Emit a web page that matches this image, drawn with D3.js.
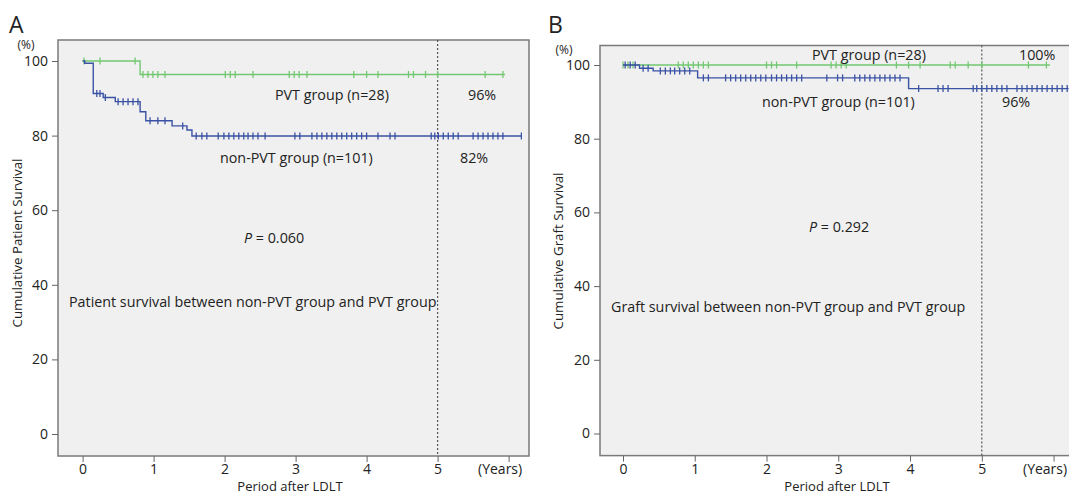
<!DOCTYPE html>
<html>
<head>
<meta charset="utf-8">
<script src="https://cdn.jsdelivr.net/npm/d3@7"></script>
<style>
  body { margin: 0; background: #fff; }
  svg { display: block; }
  text { font-family: "Open Sans", sans-serif; fill: #222; }
</style>
</head>
<body>
<svg id="chart" width="1069" height="496"></svg>
<script>
// Axis ticks
const yTicks = [0, 20, 40, 60, 80, 100];
const xTicks = [0, 1, 2, 3, 4, 5, 6];
const xTickLabels = ["0", "1", "2", "3", "4", "5", "(Years)"];

// Panel A - patient survival. Steps are [years, survival %] after each drop
const patientPvtSteps = [[0, 100], [0.81, 96.4]];
const patientPvtEnd = 5.95;
const patientPvtCensor = [0.02, 0.245, 0.74, 0.85, 0.92, 0.99, 1.06, 1.16, 2.01, 2.08, 2.15, 2.4,
  2.91, 2.98, 3.05, 3.16, 3.82, 4.0, 4.16, 4.59, 4.66, 4.83, 5.0, 5.67, 5.92];

const patientNonSteps = [[0, 100], [0.03, 99.4], [0.15, 91.3], [0.29, 90.2], [0.46, 89.1], [0.81, 86.4],
  [0.89, 84.0], [1.26, 82.6], [1.47, 81.5], [1.54, 79.9]];
const patientNonEnd = 6.18;
const patientNonCensor = [0.2, 0.245, 0.32, 0.5, 0.57, 0.64, 0.71, 0.78, 0.95, 1.06, 1.16, 1.41, 1.6, 1.68,
  1.75, 1.91, 1.99, 2.06, 2.13, 2.2, 2.27, 2.33, 2.4, 2.47, 2.57, 2.99, 3.06, 3.23, 3.3, 3.37, 3.44, 3.51,
  3.58, 3.65, 3.72, 3.79, 3.86, 3.93, 4.0, 4.16, 4.33, 4.4, 4.91, 4.96, 5.01, 5.08, 5.15, 5.22, 5.29, 5.5,
  5.57, 5.64, 5.71, 5.78, 5.85, 5.92, 6.18];

// Panel B - graft survival
const graftPvtSteps = [[0, 100]];
const graftPvtEnd = 5.95;
const graftPvtCensor = [0.0, 0.07, 0.14, 0.77, 0.84, 0.91, 0.98, 1.05, 1.12, 1.19, 2.0, 2.07, 2.14, 2.42,
  2.9, 2.97, 3.04, 3.11, 3.81, 3.98, 4.14, 4.56, 4.63, 4.81, 5.0, 5.65, 5.9];

const graftNonSteps = [[0, 100], [0.23, 99.1], [0.42, 98.4], [1.04, 96.5], [3.98, 93.6]];
const graftNonEnd = 6.21;
const graftNonCensor = [0.03, 0.1, 0.17, 0.28, 0.35, 0.52, 0.59, 0.66, 0.72, 0.79, 0.86, 0.93, 1.12, 1.19,
  1.43, 1.5, 1.57, 1.64, 1.71, 1.78, 1.85, 1.92, 1.99, 2.07, 2.14, 2.21, 2.28, 2.35, 2.42, 2.49, 2.84,
  2.99, 3.06, 3.23, 3.3, 3.37, 3.44, 3.51, 3.58, 3.65, 3.72, 3.79, 3.86, 4.12, 4.39, 4.46, 4.53, 4.88,
  4.93, 5.0, 5.07, 5.14, 5.21, 5.28, 5.35, 5.49, 5.56, 5.63, 5.7, 5.77, 5.84, 5.91, 5.98, 6.05, 6.12, 6.19];

const green = "#72c872";
const blue = "#3a52a3";

const svg = d3.select("#chart");

// Draw one Kaplan-Meier panel
function drawPanel(p) {
    const g = svg.append("g");
    const x = d3.scaleLinear().domain([0, 5]).range(p.xRange);
    const y = d3.scaleLinear().domain([0, 100]).range(p.yRange);

    // plot area
    g.append("rect")
        .attr("x", p.box.l).attr("y", p.box.t)
        .attr("width", p.box.r - p.box.l).attr("height", p.box.b - p.box.t)
        .attr("fill", "#f0f0f0")
        .attr("stroke", "#7a7a7a")
        .attr("stroke-width", 1.5);

    // y axis
    const yAxis = g.append("g")
        .attr("transform", `translate(${p.box.l},0)`)
        .call(d3.axisLeft(y).tickValues(yTicks).tickSize(6).tickPadding(4));
    yAxis.select(".domain").remove();
    yAxis.selectAll("line").attr("stroke", "#666");
    yAxis.selectAll("text").attr("font-size", 14).attr("font-family", "Open Sans").attr("fill", "#222");

    // x axis
    const xAxis = g.append("g")
        .attr("transform", `translate(0,${p.box.b})`)
        .call(d3.axisBottom(x).tickValues(xTicks).tickSize(6).tickPadding(2)
            .tickFormat((d, i) => xTickLabels[i]));
    xAxis.select(".domain").remove();
    xAxis.selectAll("line").attr("stroke", "#666");
    xAxis.selectAll("text").attr("font-size", 14).attr("font-family", "Open Sans").attr("fill", "#222");
    xAxis.selectAll(".tick").filter(d => d === 6).select("text").attr("dx", -9);

    // 5-year reference line
    g.append("line")
        .attr("x1", x(5)).attr("x2", x(5))
        .attr("y1", p.box.t).attr("y2", p.box.b)
        .attr("stroke", "#555")
        .attr("stroke-width", 1.2)
        .attr("stroke-dasharray", "2,2");

    const line = d3.line()
        .x(d => x(d[0]))
        .y(d => y(d[1]))
        .curve(d3.curveStepAfter);

    p.series.forEach(s => {
        const pts = s.steps.concat([[s.end, s.steps[s.steps.length - 1][1]]]);
        g.append("path")
            .attr("d", line(pts))
            .attr("fill", "none")
            .attr("stroke", s.color)
            .attr("stroke-width", 1.4);

        const levelAt = t => {
            let v = s.steps[0][1];
            s.steps.forEach(d => { if (d[0] <= t) v = d[1]; });
            return v;
        };
        g.append("g")
            .selectAll("line")
            .data(s.censor)
            .enter()
            .append("line")
            .attr("x1", d => x(d)).attr("x2", d => x(d))
            .attr("y1", d => y(levelAt(d)) - 3.5)
            .attr("y2", d => y(levelAt(d)) + 3.5)
            .attr("stroke", s.color)
            .attr("stroke-width", 1.3);
    });

    // panel letter and axis titles
    g.append("text")
        .attr("x", p.letterX).attr("y", 33)
        .attr("font-family", "Liberation Sans, Arial, sans-serif")
        .attr("font-size", 23)
        .text(p.letter);

    g.append("text")
        .attr("x", p.pctX).attr("y", p.pctY)
        .attr("dy", "0.35em")
        .attr("text-anchor", "middle")
        .attr("font-size", 12)
        .text("(%)");

    g.append("text")
        .attr("transform", `translate(${p.yTitleX},${p.yTitleY}) rotate(-90)`)
        .attr("dy", "0.35em")
        .attr("text-anchor", "middle")
        .attr("font-size", 13.3)
        .text(p.yTitle);

    g.append("text")
        .attr("x", p.xTitleX).attr("y", 486)
        .attr("dy", "0.35em")
        .attr("text-anchor", "middle")
        .attr("font-size", 13)
        .text("Period after LDLT");

    // annotations
    p.notes.forEach(n => {
        const t = g.append("text")
            .attr("x", n[0]).attr("y", n[1])
            .attr("dy", "0.35em")
            .attr("font-size", 14.3);
        if (n[2].startsWith("P = ")) {
            t.append("tspan").attr("font-style", "italic").text("P");
            t.append("tspan").text(n[2].slice(1));
        } else {
            t.text(n[2]);
        }
    });
}

drawPanel({
    letter: "A", letterX: 9,
    box: { l: 58, r: 529, t: 40, b: 456 },
    xRange: [82.6, 437.6], yRange: [434, 61],
    pctX: 26, pctY: 45,
    yTitle: "Cumulative Patient Survival", yTitleX: 17, yTitleY: 243,
    xTitleX: 290,
    series: [
        { steps: patientPvtSteps, end: patientPvtEnd, censor: patientPvtCensor, color: green },
        { steps: patientNonSteps, end: patientNonEnd, censor: patientNonCensor, color: blue }
    ],
    notes: [
        [275, 95, "PVT group (n=28)"],
        [468, 95, "96%"],
        [220, 158, "non-PVT group (n=101)"],
        [460, 158, "82%"],
        [244, 238, "P = 0.060"],
        [69, 302, "Patient survival between non-PVT group and PVT group"]
    ]
});

drawPanel({
    letter: "B", letterX: 548,
    box: { l: 600, r: 1075, t: 45.5, b: 455.6 },
    xRange: [623, 981.8], yRange: [433.5, 65],
    pctX: 564, pctY: 50,
    yTitle: "Cumulative Graft Survival", yTitleX: 558, yTitleY: 251,
    xTitleX: 837,
    series: [
        { steps: graftPvtSteps, end: graftPvtEnd, censor: graftPvtCensor, color: green },
        { steps: graftNonSteps, end: graftNonEnd, censor: graftNonCensor, color: blue }
    ],
    notes: [
        [812, 55, "PVT group (n=28)"],
        [1019, 55, "100%"],
        [762, 102, "non-PVT group (n=101)"],
        [1002, 102, "96%"],
        [809, 227, "P = 0.292"],
        [611, 307, "Graft survival between non-PVT group and PVT group"]
    ]
});
</script>
</body>
</html>
